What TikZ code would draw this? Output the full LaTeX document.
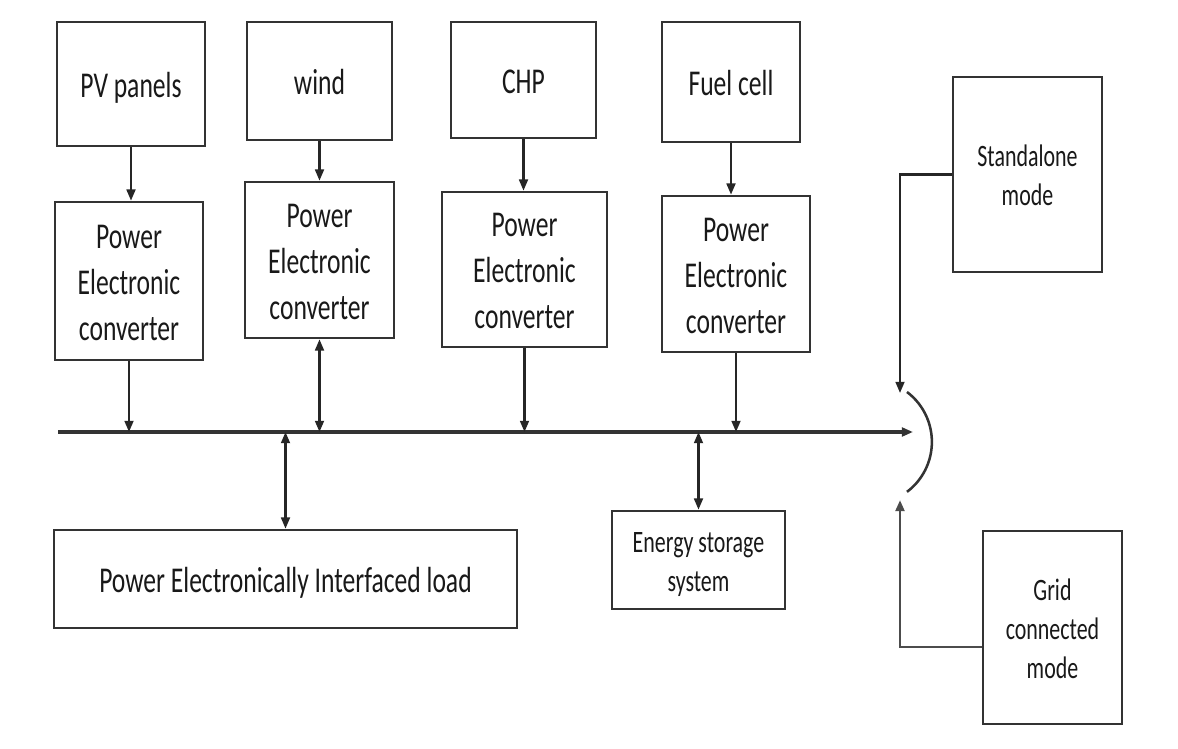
\documentclass[tikz,border=0pt]{standalone}
\usepackage{fontspec}
\setmainfont{Carlito}
\usepackage{graphicx}
\usetikzlibrary{arrows.meta,calc}
\newcommand{\tall}[1]{\raisebox{-2.8pt}[\height][\depth]{\scalebox{1}[1.42]{\begin{tabular}{@{}c@{}}#1\end{tabular}}}}

\begin{document}
\begin{tikzpicture}[x=0.025cm, y=-0.025cm,
	blk/.style 2 args={draw=black!80, line width=1.9pt, minimum width=#1*0.025cm, minimum height=#2*0.025cm, inner sep=0pt, text=black!90, font=\fontsize{18.2}{23}\selectfont},
	small/.style={font=\fontsize{15.6}{19.5}\selectfont},
	arr/.style={draw=black!85, line width=1.6pt, -{Triangle[length=2.8mm,width=2.2mm]}},
	dbl/.style={draw=black!85, line width=1.6pt, {Triangle[length=2.8mm,width=2.2mm]}-{Triangle[length=2.8mm,width=2.2mm]}},
	bus/.style={draw=black!80, line width=2.4pt}]
	%%%%% START %%%%%
	
	\fill[white] (0,0) rectangle (1178,749);
	\useasboundingbox (0,0) rectangle (1178,749);
	
	% sources
	\node[blk={148}{124}] (pv) at (131, 84) {\tall{PV panels}};
	\node[blk={145}{118}] (wind) at (319.5, 81) {\tall{wind}};
	\node[blk={145}{116}] (chp) at (523.5, 80) {\tall{CHP}};
	\node[blk={138}{120}] (fuel) at (731, 82) {\tall{Fuel cell}};
	
	% converters
	\node[blk={148}{158}] (pec1) at (129, 281) {\tall{Power\\Electronic\\converter}};
	\node[blk={149}{156}] (pec2) at (319.5, 260) {\tall{Power\\Electronic\\converter}};
	\node[blk={165}{155}] (pec3) at (524.5, 269.5) {\tall{Power\\Electronic\\converter}};
	\node[blk={148}{156}] (pec4) at (736, 274) {\tall{Power\\Electronic\\converter}};
	
	% modes
	\node[blk={149}{195}, small] (alone) at (1027.5, 174.5) {\tall{Standalone\\mode}};
	\node[blk={139}{193}, small] (grid) at (1052.5, 627.5) {\tall{Grid\\connected\\mode}};
	
	% loads
	\node[blk={463}{98}] (load) at (285.5, 579) {\tall{Power Electronically Interfaced load}};
	\node[blk={173}{98}, small] (ess) at (698.5, 560) {\tall{Energy storage\\system}};
	
	% bus
	\coordinate (busW) at (58, 432);
	\coordinate (busE) at (913, 432);
	\draw[bus, -{Triangle[length=2.8mm,width=2.2mm]}] (busW) -- (busE);
	
	\draw[arr] (pv.south) -- (pv.south |- pec1.north);
	\draw[arr] (wind.south) -- (wind.south |- pec2.north);
	\draw[arr] (chp.south) -- (chp.south |- pec3.north);
	\draw[arr] (fuel.south) -- (fuel.south |- pec4.north);
	
	\draw[arr] (pec1.south) -- (pec1.south |- busW);
	\draw[dbl] (pec2.south) -- (pec2.south |- busW);
	\draw[arr] (pec3.south) -- (pec3.south |- busW);
	\draw[arr] (pec4.south) -- (pec4.south |- busW);
	
	\draw[dbl] (load.north |- busW) -- (load.north);
	\draw[dbl] (ess.north |- busW) -- (ess.north);
	
	% switch
	\coordinate (swTop) at (900, 393);
	\coordinate (swBot) at (900, 500);
	\coordinate (arcTop) at (907, 392);
	\draw[draw=black!80, line width=1.8pt] (arcTop) arc[start angle=-53, end angle=53, radius=62.5];
	
	\draw[arr] (alone.west) -| (swTop);
	\draw[arr, draw=black!70, line width=2pt] ($(grid.west)+(0,19.5)$) -| (swBot);
	
	%%%%% END %%%%%
\end{tikzpicture}
\end{document}
